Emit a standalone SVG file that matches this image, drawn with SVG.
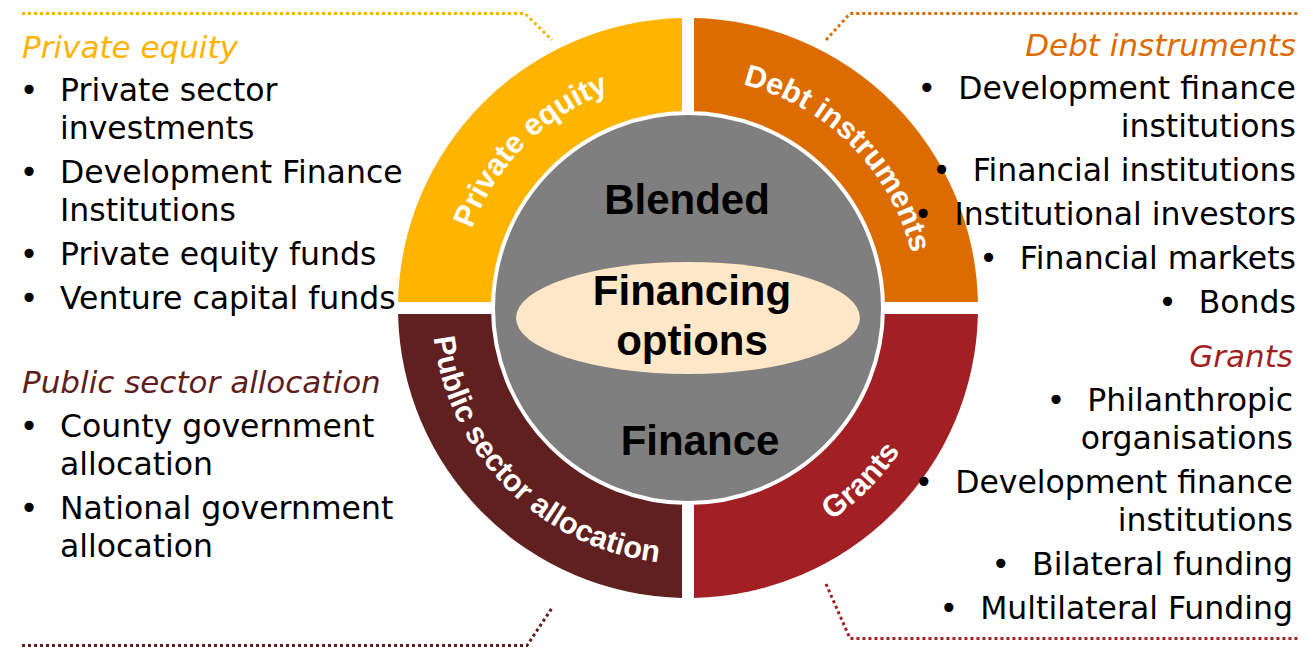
<svg xmlns="http://www.w3.org/2000/svg" xmlns:xlink="http://www.w3.org/1999/xlink" width="1309" height="647" viewBox="0 0 1309 647">
<style>
.lst{font-family:"DejaVu Sans","Liberation Sans",sans-serif;font-size:31.5px;fill:#000}
.ttl{font-family:"DejaVu Sans","Liberation Sans",sans-serif;font-size:31px;font-style:italic}
.arc{font-family:"Liberation Sans",Arial,sans-serif;font-size:30.5px;font-weight:bold;fill:#fff}
.ctr{font-family:"Liberation Sans",Arial,sans-serif;font-size:42px;font-weight:bold;fill:#000;text-anchor:middle}
.r{text-anchor:end}
.dot{fill:none;stroke-width:3;stroke-dasharray:3 3}
</style>
<defs>
<path id="pPE" d="M458,308 A230,230 0 0 1 688,78"/>
<path id="pDI" d="M688,78 A230,230 0 0 1 918,308"/>
<path id="pPS" d="M432,308 A256,256 0 0 0 688,564"/>
<path id="pGR" d="M688,564 A256,256 0 0 0 944,308"/>
</defs>
<rect width="1309" height="647" fill="#fff"/>
<g id="connectors">
<path class="dot" stroke="#FFB300" d="M22,13.5 H525 L552,40"/>
<path class="dot" stroke="#DC6B00" d="M826,40 L850,13.5 H1298"/>
<path class="dot" stroke="#A21F23" d="M826,584 L850,638.5 H1298"/>
<path class="dot" stroke="#612020" stroke-width="2" d="M22,645.5 H527 L552,608"/>
</g>
<g id="private-equity">
<path fill="#FFB400" d="M682,302 L682,18.06 A290,290 0 0 0 398.06,302 Z"/>
<text class="arc"><textPath xlink:href="#pPE" href="#pPE" startOffset="50%" text-anchor="middle">Private equity</textPath></text>
</g>
<g id="debt-instruments">
<path fill="#DC6B00" d="M694,302 L694,18.06 A290,290 0 0 1 977.94,302 Z"/>
<text class="arc"><textPath xlink:href="#pDI" href="#pDI" startOffset="50%" text-anchor="middle">Debt instruments</textPath></text>
</g>
<g id="grants">
<path fill="#A21F23" d="M694,314 L977.94,314 A290,290 0 0 1 694,597.94 Z"/>
<text class="arc"><textPath xlink:href="#pGR" href="#pGR" startOffset="50%" text-anchor="middle">Grants</textPath></text>
</g>
<g id="public-sector">
<path fill="#612020" d="M682,314 L682,597.94 A290,290 0 0 1 398.06,314 Z"/>
<text class="arc"><textPath xlink:href="#pPS" href="#pPS" startOffset="50%" text-anchor="middle">Public sector allocation</textPath></text>
</g>
<g id="blended-finance">
<circle cx="688" cy="308" r="195" fill="#7F7F7F" stroke="#fff" stroke-width="4"/>
<text class="ctr" x="687" y="214">Blended</text>
<text class="ctr" x="700" y="455">Finance</text>
</g>
<g id="financing-options">
<ellipse cx="688" cy="318" rx="172" ry="56" fill="#FFE7C8"/>
<text class="ctr" x="692" y="305">Financing</text>
<text class="ctr" x="692" y="355">options</text>
</g>
<g id="list-private-equity">
<text class="ttl" x="22" y="58" fill="#FFB300">Private equity</text>
<text class="lst" x="29" y="101" text-anchor="middle">•</text>
<text class="lst" x="60" y="101">Private sector</text>
<text class="lst" x="60" y="139">investments</text>
<text class="lst" x="29" y="183" text-anchor="middle">•</text>
<text class="lst" x="60" y="183">Development Finance</text>
<text class="lst" x="60" y="221">Institutions</text>
<text class="lst" x="29" y="265" text-anchor="middle">•</text>
<text class="lst" x="60" y="265">Private equity funds</text>
<text class="lst" x="29" y="309" text-anchor="middle">•</text>
<text class="lst" x="60" y="309">Venture capital funds</text>
</g>
<g id="list-public-sector">
<text class="ttl" x="22" y="393" fill="#5E1E1E">Public sector allocation</text>
<text class="lst" x="29" y="437" text-anchor="middle">•</text>
<text class="lst" x="60" y="437">County government</text>
<text class="lst" x="60" y="475">allocation</text>
<text class="lst" x="29" y="519" text-anchor="middle">•</text>
<text class="lst" x="60" y="519">National government</text>
<text class="lst" x="60" y="557">allocation</text>
</g>
<g id="list-debt-instruments">
<text class="ttl r" x="1296" y="56" fill="#DD6B00">Debt instruments</text>
<text class="lst r" x="1296" y="99"><tspan>•</tspan><tspan dx="22">Development finance</tspan></text>
<text class="lst r" x="1296" y="137">institutions</text>
<text class="lst r" x="1296" y="181"><tspan>•</tspan><tspan dx="22">Financial institutions</tspan></text>
<text class="lst r" x="1296" y="225"><tspan>•</tspan><tspan dx="22">Institutional investors</tspan></text>
<text class="lst r" x="1296" y="269"><tspan>•</tspan><tspan dx="22">Financial markets</tspan></text>
<text class="lst r" x="1296" y="313"><tspan>•</tspan><tspan dx="22">Bonds</tspan></text>
</g>
<g id="list-grants">
<text class="ttl r" x="1293" y="367" fill="#A11F22">Grants</text>
<text class="lst r" x="1293" y="411"><tspan>•</tspan><tspan dx="22">Philanthropic</tspan></text>
<text class="lst r" x="1293" y="449">organisations</text>
<text class="lst r" x="1293" y="493"><tspan>•</tspan><tspan dx="22">Development finance</tspan></text>
<text class="lst r" x="1293" y="531">institutions</text>
<text class="lst r" x="1293" y="575"><tspan>•</tspan><tspan dx="22">Bilateral funding</tspan></text>
<text class="lst r" x="1293" y="619"><tspan>•</tspan><tspan dx="22">Multilateral Funding</tspan></text>
</g>
</svg>
